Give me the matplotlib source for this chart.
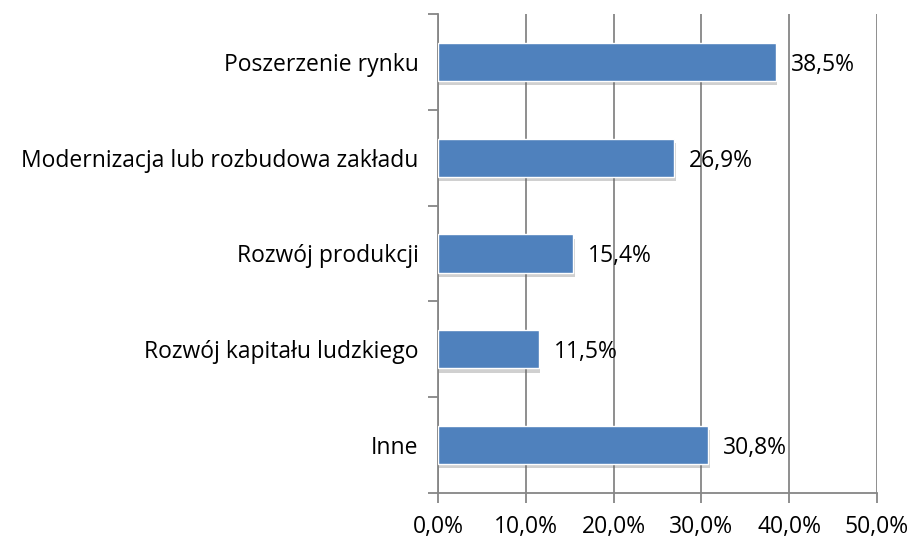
import numpy as np
import matplotlib
matplotlib.use('Agg')
import matplotlib.pyplot as plt
import matplotlib.patheffects as pe
from matplotlib.ticker import FixedLocator

categories = ['Poszerzenie rynku', 'Modernizacja lub rozbudowa zakładu',
              'Rozwój produkcji', 'Rozwój kapitału ludzkiego', 'Inne']
values = [38.5, 26.9, 15.4, 11.5, 30.8]
xticks = [0, 10, 20, 30, 40, 50]

plt.rcParams['font.family'] = ['Open Sans', 'DejaVu Sans']
fs = 16.5

fig = plt.figure(figsize=(9.12, 5.39), dpi=100)
ax = fig.add_axes([438 / 912, 1 - 493 / 539, (877 - 438) / 912, (493 - 14) / 539])

y = np.arange(len(categories))[::-1]
bars = ax.barh(y, values, height=0.4, color='#4f81bd', edgecolor='white',
               linewidth=1.0, zorder=3)
for b in bars:
    b.set_path_effects([pe.SimplePatchShadow(offset=(1, -3), shadow_rgbFace='#666666', alpha=0.3),
                        pe.Normal()])

for yi, v in zip(y, values):
    ax.text(v + 1.7, yi, f'{v:.1f}%'.replace('.', ','), va='center_baseline', ha='left',
            fontsize=fs, color='black', zorder=4)

ax.set_xlim(0, 50)
ax.set_ylim(-0.5, len(categories) - 0.5)
ax.set_xticks(xticks)
ax.set_xticklabels([f'{t:.1f}%'.replace('.', ',') for t in xticks], fontsize=fs)
ax.set_yticks(y)
ax.set_yticklabels(categories, fontsize=fs)
ax.yaxis.set_minor_locator(FixedLocator(np.arange(-0.5, len(categories), 1.0)))
ax.tick_params(axis='y', which='major', length=0, pad=14)
ax.tick_params(axis='y', which='minor', length=7, color='#868686', width=1.3)
ax.tick_params(axis='x', which='major', length=7, color='#868686', width=1.3, pad=9)

ax.grid(axis='x', color='#868686', linewidth=1.3, zorder=0)
for s in ['top', 'right']:
    ax.spines[s].set_visible(False)
for s in ['left', 'bottom']:
    ax.spines[s].set_color('#868686')
    ax.spines[s].set_linewidth(1.3)

fig.savefig('out.png', dpi=100)
